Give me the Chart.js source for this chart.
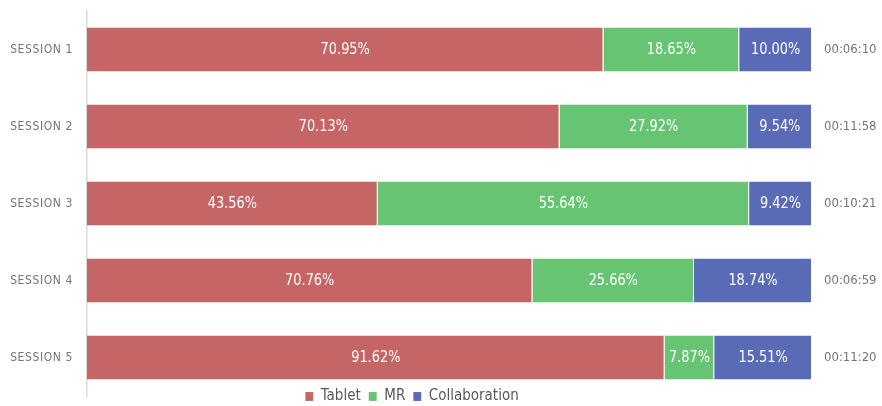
<!DOCTYPE html>
<html>
<head>
<meta charset="utf-8">
<script src="https://cdn.jsdelivr.net/npm/chart.js@4/dist/chart.umd.min.js"></script>
<style>
  html, body { margin: 0; padding: 0; background: #fff; }
  #wrap { width: 882px; height: 406px; }
</style>
</head>
<body>
<div id="wrap"><canvas id="sessionChart"></canvas></div>
<script>
const sessions = ['SESSION 1', 'SESSION 2', 'SESSION 3', 'SESSION 4', 'SESSION 5'];
const durations = ['00:06:10', '00:11:58', '00:10:21', '00:06:59', '00:11:20'];
const tablet = [70.95, 70.13, 43.56, 70.76, 91.62];
const mr = [18.65, 27.92, 55.64, 25.66, 7.87];
const collab = [10.00, 9.54, 9.42, 18.74, 15.51];

const FONT = "'DejaVu Sans Condensed', 'DejaVu Sans', sans-serif";

// bars are drawn as share of the row total, labels keep the raw numbers
function share(arr) {
  return arr.map((v, i) => v / (tablet[i] + mr[i] + collab[i]) * 100);
}

const series = [
  { label: 'Tablet', raw: tablet, color: '#c66566' },
  { label: 'MR', raw: mr, color: '#66c472' },
  { label: 'Collaboration', raw: collab, color: '#596bb7' }
];

const barLabels = {
  id: 'barLabels',
  afterDatasetsDraw(chart) {
    const ctx = chart.ctx;
    chart.data.datasets.forEach((ds, di) => {
      chart.getDatasetMeta(di).data.forEach((bar, i) => {
        ctx.save();
        ctx.font = '16.5px ' + FONT;
        ctx.fillStyle = '#ffffff';
        ctx.textAlign = 'center';
        ctx.textBaseline = 'middle';
        // squeeze a little, the original uses a narrow face
        ctx.translate((bar.base + bar.x) / 2, bar.y);
        ctx.scale(0.87, 1);
        ctx.fillText(ds.raw[i].toFixed(2) + '%', 0, 0);
        ctx.restore();
      });
    });
  }
};

const tweaks = {
  id: 'tweaks',
  beforeInit(chart) {
    const fit = chart.legend.fit;
    chart.legend.fit = function () { fit.call(this); this.height = 10; };
  },
  afterLayout(chart) {
    const lg = chart.legend;
    lg.top -= 15;
    lg.left -= 29; lg.right -= 29;
    const y = chart.scales.y;
    if (!y._spaced) {
      const draw = y.drawLabels;
      y.drawLabels = function (area) {
        this.ctx.save();
        this.ctx.letterSpacing = '0.6px';
        draw.call(this, area);
        this.ctx.restore();
      };
      y._spaced = true;
    }
  }
};

function noVPad(scale, w) {
  scale.width = w;
  scale.paddingTop = 0;
  scale.paddingBottom = 0;
}

new Chart(document.getElementById('sessionChart'), {
  type: 'bar',
  data: {
    labels: sessions,
    datasets: series.map(s => ({
      label: s.label,
      raw: s.raw,
      data: share(s.raw),
      backgroundColor: s.color,
      borderColor: 'rgba(255,255,255,0.55)',
      borderWidth: { right: 1, left: 0, top: 0, bottom: 0 },
      borderSkipped: false,
      categoryPercentage: 1,
      barPercentage: 0.57
    }))
  },
  options: {
    indexAxis: 'y',
    responsive: true,
    maintainAspectRatio: false,
    animation: false,
    layout: { padding: { top: 11, left: 0, right: 0, bottom: 0 } },
    plugins: {
      tooltip: { enabled: false },
      legend: {
        position: 'bottom',
        labels: {
          font: { family: FONT, size: 15 },
          color: '#595959',
          boxWidth: 8,
          boxHeight: 9,
          padding: 8
        }
      }
    },
    scales: {
      x: { stacked: true, min: 0, max: 100, display: false },
      y: {
        stacked: true,
        grid: { display: false, drawTicks: false },
        border: { display: true, color: '#d9d9d9', width: 1.5 },
        ticks: { font: { family: FONT, size: 12 }, color: '#757575', padding: 14 },
        afterFit(scale) { noVPad(scale, 87); }
      },
      y2: {
        type: 'category',
        labels: durations,
        position: 'right',
        offset: true,
        grid: { display: false, drawTicks: false },
        border: { display: false },
        ticks: { font: { family: FONT, size: 13 }, color: '#757575', padding: 12 },
        afterFit(scale) { noVPad(scale, 70); }
      }
    }
  },
  plugins: [barLabels, tweaks]
});
</script>
</body>
</html>
